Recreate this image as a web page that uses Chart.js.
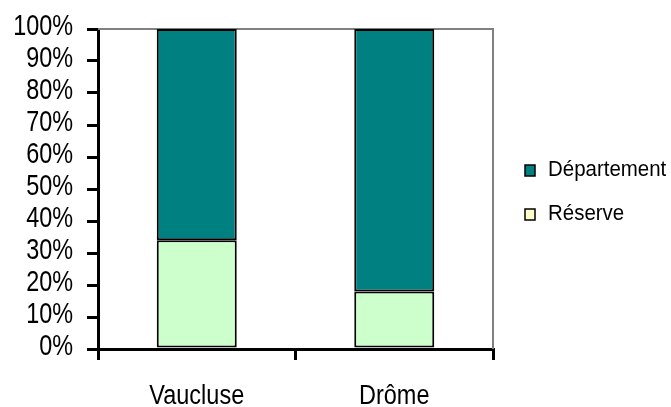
<!DOCTYPE html>
<html>
<head>
<meta charset="utf-8">
<script src="https://cdn.jsdelivr.net/npm/chart.js@4"></script>
<style>
  body { margin: 0; background: #fff; }
  #wrap { width: 671px; height: 407px; }
</style>
</head>
<body>
<div id="wrap"><canvas id="chart" width="671" height="407"></canvas></div>
<script>
const categories = ['Vaucluse', 'Drôme'];
const reserve = [34, 18];
const departement = [66, 82];
const yTicks = [0, 10, 20, 30, 40, 50, 60, 70, 80, 90, 100];

const FONT = "'Liberation Sans', Arial, sans-serif";

// text squeezed horizontally to look like the narrow Arial of the original
function narrowText(ctx, text, x, y, size, squeeze, align) {
    ctx.save();
    ctx.font = size + 'px ' + FONT;
    ctx.textBaseline = 'middle';
    ctx.textAlign = align;
    ctx.fillStyle = '#000';
    ctx.translate(x, y);
    ctx.scale(squeeze, 1);
    ctx.fillText(text, 0, 0);
    ctx.restore();
}

// gray top/right border of the plot area
const frame = {
    id: 'frame',
    beforeDatasetsDraw(chart) {
        const { ctx, chartArea: a } = chart;
        ctx.save();
        ctx.strokeStyle = '#808080';
        ctx.lineWidth = 2;
        ctx.beginPath();
        ctx.moveTo(a.left, a.top);
        ctx.lineTo(a.right, a.top);
        ctx.lineTo(a.right, a.bottom);
        ctx.stroke();
        ctx.restore();
    }
};

// axis labels and the legend on the right
const labels = {
    id: 'labels',
    afterDraw(chart) {
        const { ctx, scales: { x, y } } = chart;
        yTicks.forEach(v => narrowText(ctx, v + '%', 73, y.getPixelForValue(v) - 2, 30, 0.78, 'right'));
        categories.forEach((c, i) => narrowText(ctx, c, x.getPixelForValue(i), 397, 27, 0.87, 'center'));

        const items = [
            { text: chart.data.datasets[1].label, fill: '#008080', y: 170 },
            { text: chart.data.datasets[0].label, fill: '#FFFFCC', y: 214 }
        ];
        items.forEach(it => {
            ctx.save();
            ctx.fillStyle = it.fill;
            ctx.fillRect(525, it.y - 5, 10, 11);
            ctx.strokeStyle = '#000';
            ctx.lineWidth = 1.5;
            ctx.strokeRect(525, it.y - 5, 10, 11);
            ctx.restore();
            narrowText(ctx, it.text, 548, it.y, 22, 0.93, 'left');
        });
    }
};

new Chart(document.getElementById('chart'), {
    type: 'bar',
    data: {
        labels: categories,
        datasets: [
            {
                label: 'Réserve',
                data: reserve,
                backgroundColor: '#CCFFCC',
                borderColor: '#000',
                borderWidth: 2,
                borderSkipped: false,
                categoryPercentage: 1,
                barPercentage: 0.405
            },
            {
                label: 'Département',
                data: departement,
                backgroundColor: '#008080',
                borderColor: '#000',
                borderWidth: 2,
                borderSkipped: false,
                categoryPercentage: 1,
                barPercentage: 0.405
            }
        ]
    },
    options: {
        responsive: false,
        animation: false,
        devicePixelRatio: 1,
        layout: { padding: { top: 29, right: 178, left: 0, bottom: 0 } },
        plugins: {
            legend: { display: false },
            tooltip: { enabled: false }
        },
        scales: {
            x: {
                stacked: true,
                border: { color: '#000', width: 3 },
                grid: {
                    offset: true,
                    drawOnChartArea: false,
                    color: '#000',
                    lineWidth: 3,
                    tickLength: 11
                },
                ticks: { display: false },
                afterFit: s => { s.height = 58; }
            },
            y: {
                stacked: true,
                min: 0,
                max: 100,
                afterBuildTicks: s => { s.ticks = yTicks.map(v => ({ value: v })); },
                border: { color: '#000', width: 3 },
                grid: {
                    drawOnChartArea: false,
                    color: '#000',
                    lineWidth: 3,
                    tickLength: 11
                },
                ticks: { display: false, autoSkip: false },
                afterFit: s => { s.width = 98; }
            }
        }
    },
    plugins: [frame, labels]
});
</script>
</body>
</html>
